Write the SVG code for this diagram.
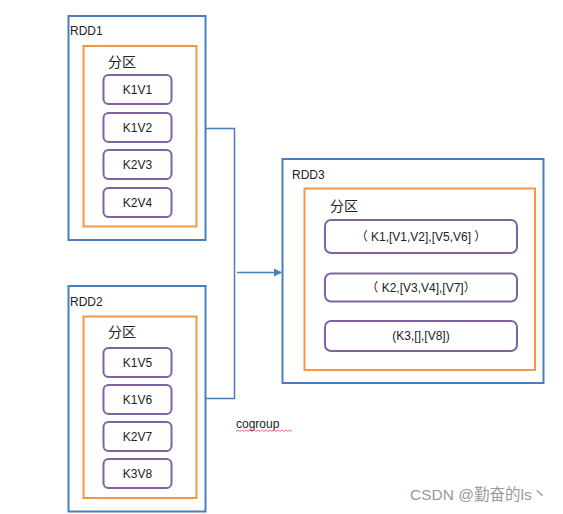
<svg xmlns="http://www.w3.org/2000/svg" width="563" height="514" viewBox="0 0 563 514">
<defs>
<marker id="arr" markerWidth="8" markerHeight="8" refX="7" refY="4" orient="auto" markerUnits="userSpaceOnUse">
<path d="M0,0 L8,4 L0,8 Z" fill="#4A7EBB"/>
</marker>
<style>
.rdd{fill:#fff;stroke:#4A7EBB;stroke-width:2}
.part{fill:none;stroke:#F79646;stroke-width:2}
.item{fill:#fff;stroke:#8064A2;stroke-width:2}
.lbl{font-family:"Liberation Sans","Noto Sans CJK SC",sans-serif;font-size:12px;fill:#222}
.cn{font-family:"Noto Sans CJK SC",sans-serif;font-size:14px;fill:#222}
.it{font-family:"Liberation Sans","Noto Sans CJK SC",sans-serif;font-size:12px;fill:#222;text-anchor:middle}
.conn{fill:none;stroke:#4A7EBB;stroke-width:1.5}
</style>
</defs>
<rect width="563" height="514" fill="#fff"/>
<g id="connectors">
<path class="conn" d="M206,128.5 H234.5 V398.5 H206"/>
<path class="conn" d="M237,272.5 H281" marker-end="url(#arr)"/>
</g>
<g id="rdd1">
<rect class="rdd" x="68.5" y="16" width="137" height="224"/>
<text class="lbl" x="70" y="35">RDD1</text>
<rect class="part" x="83.5" y="46" width="113" height="180.5"/>
<text class="cn" x="108" y="67">分区</text>
<g id="k1v1"><rect class="item" x="103.5" y="75" width="68" height="29" rx="5"/><text class="it" x="137.5" y="94">K1V1</text></g>
<g id="k1v2"><rect class="item" x="103.5" y="113" width="68" height="29" rx="5"/><text class="it" x="137.5" y="132">K1V2</text></g>
<g id="k2v3"><rect class="item" x="103.5" y="150" width="68" height="29" rx="5"/><text class="it" x="137.5" y="169">K2V3</text></g>
<g id="k2v4"><rect class="item" x="103.5" y="188" width="68" height="29" rx="5"/><text class="it" x="137.5" y="207">K2V4</text></g>
</g>
<g id="rdd2">
<rect class="rdd" x="68.5" y="286" width="137" height="225.5"/>
<text class="lbl" x="70" y="306">RDD2</text>
<rect class="part" x="83.5" y="316.5" width="113" height="181.5"/>
<text class="cn" x="108" y="337">分区</text>
<g id="k1v5"><rect class="item" x="103.5" y="348" width="68" height="29" rx="5"/><text class="it" x="137.5" y="367">K1V5</text></g>
<g id="k1v6"><rect class="item" x="103.5" y="385" width="68" height="29" rx="5"/><text class="it" x="137.5" y="404">K1V6</text></g>
<g id="k2v7"><rect class="item" x="103.5" y="422" width="68" height="29" rx="5"/><text class="it" x="137.5" y="441">K2V7</text></g>
<g id="k3v8"><rect class="item" x="103.5" y="459" width="68" height="29" rx="5"/><text class="it" x="137.5" y="478">K3V8</text></g>
</g>
<g id="rdd3">
<rect class="rdd" x="282.5" y="159" width="261" height="224"/>
<text class="lbl" x="292" y="179">RDD3</text>
<rect class="part" x="304.5" y="188.5" width="230.5" height="181.5"/>
<text class="cn" x="330" y="211">分区</text>
<g id="g1"><rect class="item" x="325" y="220" width="192" height="33" rx="6"/><text class="it" x="421" y="241">（ K1,[V1,V2],[V5,V6] ）</text></g>
<g id="g2"><rect class="item" x="325" y="273.5" width="192" height="28" rx="6"/><text class="it" x="421" y="292">（ K2,[V3,V4],[V7]）</text></g>
<g id="g3"><rect class="item" x="325" y="321" width="192" height="30" rx="6"/><text class="it" x="421" y="340">(K3,[],[V8])</text></g>
</g>
<g id="cogroup">
<text class="lbl" x="236" y="428">cogroup</text>
<path d="M236,431.5 l2,-1.5 l2,1.5 l2,-1.5 l2,1.5 l2,-1.5 l2,1.5 l2,-1.5 l2,1.5 l2,-1.5 l2,1.5 l2,-1.5 l2,1.5 l2,-1.5 l2,1.5 l2,-1.5 l2,1.5 l2,-1.5 l2,1.5 l2,-1.5 l2,1.5 l2,-1.5 l2,1.5 l2,-1.5 l2,1.5 l2,-1.5 l2,1.5 l2,-1.5 l2,1.5" fill="none" stroke="#F05050" stroke-width="0.8"/>
</g>
<text x="410" y="500" font-family="'Liberation Sans','Noto Sans CJK SC',sans-serif" font-size="15.5" fill="#999">CSDN @勤奋的ls丶</text>
</svg>
